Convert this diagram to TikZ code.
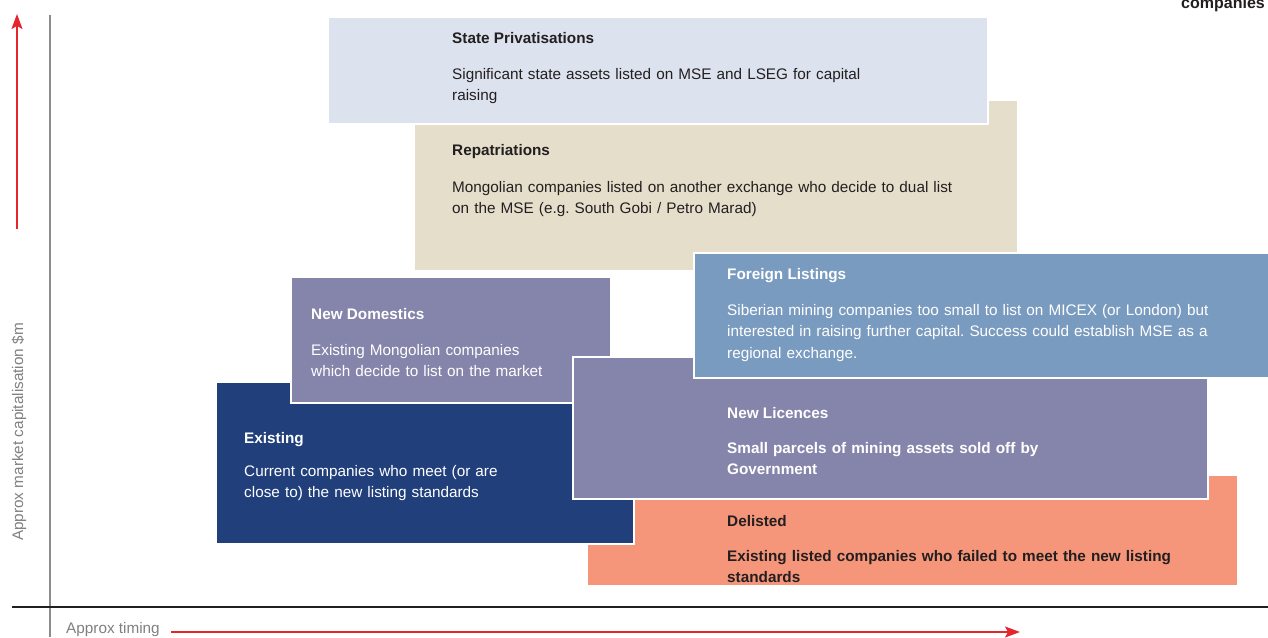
\documentclass[tikz,border=0pt]{standalone}
\usepackage{fontspec}
\setmainfont{Liberation Sans}
\usetikzlibrary{arrows.meta}
\frenchspacing

\definecolor{statefill}{HTML}{DCE2EE}
\definecolor{repatfill}{HTML}{E5DECB}
\definecolor{lilac}{HTML}{8585AC}
\definecolor{navy}{HTML}{213F7A}
\definecolor{steel}{HTML}{7A9BC0}
\definecolor{salmon}{HTML}{F5967A}
\definecolor{ink}{HTML}{231F20}
\definecolor{axisred}{HTML}{E5262D}
\definecolor{axisgrey}{HTML}{8C8C8C}
\definecolor{labelgrey}{HTML}{808080}

\tikzset{
  panel/.style={draw=white, line width=2.5pt, inner sep=0pt, outer sep=0pt, anchor=north west},
  heading/.style={anchor=base west, inner sep=0pt, font=\fontsize{15.3}{21.7}\selectfont\bfseries},
  blurb/.style={anchor=base west, inner sep=0pt, text width=560pt, align=left,
    font=\fontsize{15.3}{21.7}\selectfont},
  axislabel/.style={inner sep=0pt, text=labelgrey, font=\fontsize{15.3}{18}\selectfont},
  redarrow/.style={draw=axisred, line width=1.3pt, -{Stealth[length=15pt, width=11pt, inset=3pt]}},
}

\begin{document}
\begin{tikzpicture}[x=1pt, y=-1pt]
\useasboundingbox (0,0) rectangle (1268,637);

% stacked panels, back to front
\node[panel, fill=repatfill, minimum width=604pt, minimum height=171pt] (repat) at (414,100) {};
\node[panel, fill=statefill, minimum width=660pt, minimum height=107pt] (state) at (328,17) {};
\node[panel, fill=salmon, minimum width=651pt, minimum height=111pt] (delisted) at (587,475) {};
\node[panel, fill=navy, minimum width=418pt, minimum height=162pt] (existing) at (216,382) {};
\node[panel, fill=lilac, minimum width=320pt, minimum height=126pt] (newdom) at (291,277) {};
\node[panel, fill=lilac, minimum width=635pt, minimum height=142pt] (newlic) at (573,357) {};
\node[panel, fill=steel, minimum width=585pt, minimum height=125pt] (foreign) at (694,253) {};

% panel texts
\node[heading, text=ink] (stateH) at (452,43) {State Privatisations};
\node[blurb, text=ink] (stateB) at (452,79) {Significant state assets listed on MSE and LSEG for capital\\raising};

\node[heading, text=ink] (repatH) at (452,155) {Repatriations};
\node[blurb, text=ink] (repatB) at (452,192) {Mongolian companies listed on another exchange who decide to dual list\\on the MSE (e.g. South Gobi / Petro Marad)};

\node[heading, text=white] (foreignH) at (727,279) {Foreign Listings};
\node[blurb, text=white] (foreignB) at (727,315) {Siberian mining companies too small to list on MICEX (or London) but\\interested in raising further capital. Success could establish MSE as a\\regional exchange.};

\node[heading, text=white] (newdomH) at (311,319) {New Domestics};
\node[blurb, text=white] (newdomB) at (311,355) {Existing Mongolian companies\\which decide to list on the market};

\node[heading, text=white] (existingH) at (244,443) {Existing};
\node[blurb, text=white] (existingB) at (244,476) {Current companies who meet (or are\\close to) the new listing standards};

\node[heading, text=white] (newlicH) at (727,418) {New Licences};
\node[blurb, text=white, font=\fontsize{15.3}{21.2}\selectfont\bfseries] (newlicB) at (727,453) {Small parcels of mining assets sold off by\\Government};

\node[heading, text=ink] (delistedH) at (727,526) {Delisted};
\node[blurb, text=ink, font=\fontsize{15.3}{21.2}\selectfont\bfseries] (delistedB) at (727,561) {Existing listed companies who failed to meet the new listing\\standards};

% corner caption
\node[anchor=base east, inner sep=0pt, text=ink, font=\fontsize{16}{18}\selectfont\bfseries] (corner) at (1265,9) {companies};

% axes
\coordinate (vaxTop) at (50,15);
\coordinate (vaxBot) at (50,637);
\draw[axisgrey, line width=1.6pt] (vaxTop) -- (vaxBot);
\coordinate (haxL) at (12,607);
\coordinate (haxR) at (1268,607);
\draw[ink, line width=1.2pt] (haxL) -- (haxR);

% axis labels and direction arrows
\node[axislabel, rotate=90] (ylab) at (19,432) {Approx market capitalisation \$m};
\coordinate (ytail) at (17,229);
\coordinate (ytip) at (17,14);
\draw[redarrow] (ytail) -- (ytip);

\node[axislabel, anchor=base west] (xlab) at (66,633) {Approx timing};
\coordinate (xtail) at (171,632);
\coordinate (xtip) at (1020,632);
\draw[redarrow] (xtail) -- (xtip);
\end{tikzpicture}
\end{document}
